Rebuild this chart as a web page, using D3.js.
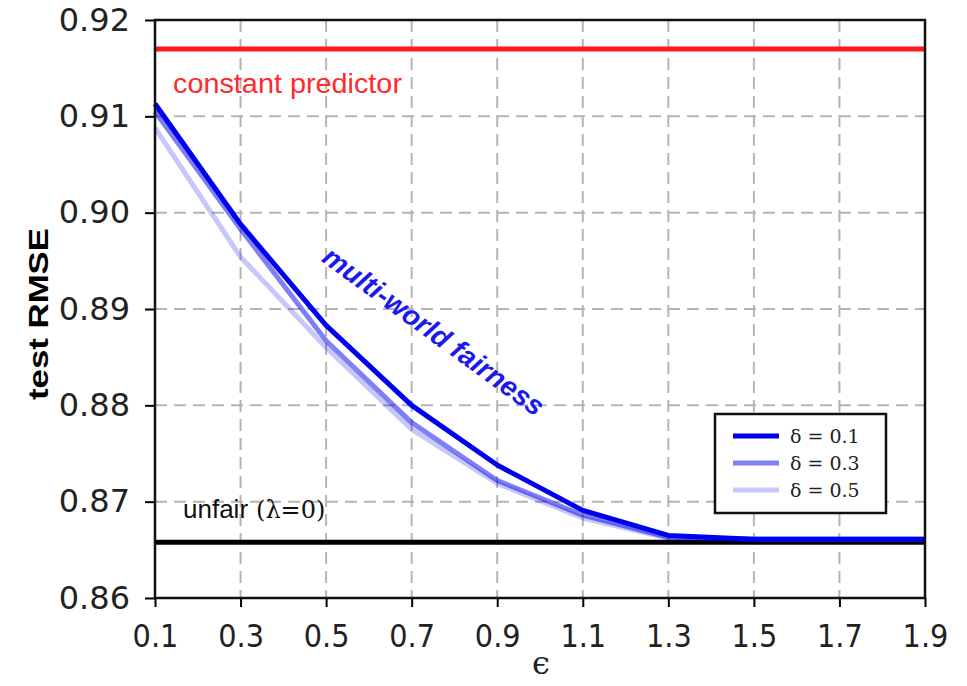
<!DOCTYPE html>
<html><head><meta charset="utf-8">
<script src="https://cdn.jsdelivr.net/npm/d3@7"></script>
<style>body{margin:0;background:#fff}</style>
</head><body><div id="chart"></div>
<script>
const epsilons = [0.1,0.3,0.5,0.7,0.9,1.1,1.3,1.5,1.7,1.9];
const delta01 = [0.9113,0.8988,0.8883,0.8800,0.8738,0.8691,0.8665,0.8661,0.8661,0.8661];
const delta03 = [0.9105,0.8983,0.8867,0.8782,0.8722,0.8686,0.8663,0.8661,0.8661,0.8661];
const delta05 = [0.9088,0.8954,0.8860,0.8775,0.8719,0.8683,0.8662,0.8661,0.8661,0.8661];
const seriesNames = ["δ = 0.1","δ = 0.3","δ = 0.5"];
const seriesOpacity = [1,0.5,0.22];
const constantPredictor = 0.917;
const unfair = 0.8658;
const xTicks = [0.1,0.3,0.5,0.7,0.9,1.1,1.3,1.5,1.7,1.9];
const yTicks = [0.86,0.87,0.88,0.89,0.90,0.91,0.92];

const W=967,H=686;
const L=155,R=925,T=20,B=598;
const svg=d3.select("#chart").append("svg").attr("width",W).attr("height",H);
const x=d3.scaleLinear().domain([0.1,1.9]).range([L,R]);
const y=d3.scaleLinear().domain([0.86,0.92]).range([B,T]);

// grid
const grid=svg.append("g");
grid.selectAll("line.vx").data(xTicks.slice(1,-1)).join("line")
 .attr("x1",d=>x(d)).attr("x2",d=>x(d)).attr("y1",T).attr("y2",B)
 .attr("stroke","#b4b4b4").attr("stroke-width",2).attr("stroke-dasharray","12,7");
grid.selectAll("line.hy").data(yTicks.slice(1,-1)).join("line")
 .attr("y1",d=>y(d)).attr("y2",d=>y(d)).attr("x1",L).attr("x2",R)
 .attr("stroke","#b4b4b4").attr("stroke-width",2).attr("stroke-dasharray","12,7");

// horizontal reference lines
svg.append("line").attr("x1",x(0.1)).attr("x2",x(1.9)).attr("y1",y(constantPredictor)).attr("y2",y(constantPredictor))
 .attr("stroke","#ff1a1a").attr("stroke-width",5);
svg.append("line").attr("x1",x(0.1)).attr("x2",x(1.9)).attr("y1",y(unfair)).attr("y2",y(unfair))
 .attr("stroke","#000").attr("stroke-width",5);

const line=d3.line().x((d,i)=>x(epsilons[i])).y(d=>y(d));
const allSeries=[delta05,delta03,delta01];
const ops=[seriesOpacity[2],seriesOpacity[1],seriesOpacity[0]];
allSeries.forEach((s,k)=>{
  svg.append("path").datum(s).attr("d",line).attr("fill","none")
   .attr("stroke","#0000ee").attr("stroke-opacity",ops[k]).attr("stroke-width",5)
   .attr("stroke-linejoin","round");
});

// texts
svg.append("text").attr("x",173).attr("y",93).attr("fill","#ff2a2a")
 .attr("font-family","Liberation Sans, Arial, sans-serif").attr("font-size",28)
 .attr("textLength",229).attr("lengthAdjust","spacingAndGlyphs").text("constant predictor");
const uf=svg.append("text").attr("x",183).attr("y",518).attr("fill","#111")
 .attr("font-family","Liberation Sans, Arial, sans-serif").attr("font-size",26);
uf.append("tspan").text("unfair");
uf.append("tspan").attr("dx",8).attr("font-family","DejaVu Serif, serif").attr("font-size",24).text("(λ=0)");
svg.append("text").attr("transform","translate(428,339) rotate(36)").attr("text-anchor","middle")
 .attr("fill","#1a1aee").attr("font-family","Liberation Sans, Arial, sans-serif").attr("font-weight","bold")
 .attr("font-style","italic").attr("font-size",28).text("multi-world fairness");

// axes
const xAxis=d3.axisBottom(x).tickValues(xTicks).tickFormat(d3.format(".1f")).tickSize(9).tickSizeOuter(0);
const yAxis=d3.axisLeft(y).tickValues(yTicks).tickFormat(d3.format(".2f")).tickSize(10).tickSizeOuter(0);
const gx=svg.append("g").attr("transform",`translate(0,${B})`).call(xAxis);
const gy=svg.append("g").attr("transform",`translate(${L},0)`).call(yAxis);
[gx,gy].forEach(g=>{
  g.select(".domain").remove();
  g.selectAll(".tick line").attr("stroke","#000").attr("stroke-width",2);
  g.selectAll(".tick text").attr("fill","#222").attr("font-family","DejaVu Sans, sans-serif").attr("font-size",32);
});
gx.selectAll(".tick text").attr("y",0).attr("dy",0).attr("transform","translate(0,49) scale(0.9,1)");
gy.selectAll(".tick text").attr("dx",-12);
svg.append("rect").attr("x",L).attr("y",T).attr("width",R-L).attr("height",B-T)
 .attr("fill","none").attr("stroke","#111").attr("stroke-width",2.5);

svg.append("text").attr("transform","translate(48,314) rotate(-90)").attr("text-anchor","middle")
 .attr("font-family","Liberation Sans, Arial, sans-serif").attr("font-weight","bold").attr("font-size",27)
 .attr("textLength",172).attr("lengthAdjust","spacingAndGlyphs").text("test RMSE");
svg.append("text").attr("x",541).attr("y",674).attr("text-anchor","middle")
 .attr("font-family","DejaVu Serif, serif").attr("font-size",32).attr("fill","#222").text("ϵ");

// legend
const lg=svg.append("g");
lg.append("rect").attr("x",715).attr("y",414).attr("width",171).attr("height",99)
 .attr("fill","#fff").attr("stroke","#111").attr("stroke-width",2.5);
seriesNames.forEach((n,i)=>{
  const yy=436+i*27;
  lg.append("line").attr("x1",733).attr("x2",779).attr("y1",yy).attr("y2",yy)
   .attr("stroke","#0000ee").attr("stroke-opacity",seriesOpacity[i]).attr("stroke-width",5);
  lg.append("text").attr("x",790).attr("y",yy+7).attr("font-family","DejaVu Serif, serif")
   .attr("font-size",19).attr("fill","#222").text(n);
});
</script></body></html>
